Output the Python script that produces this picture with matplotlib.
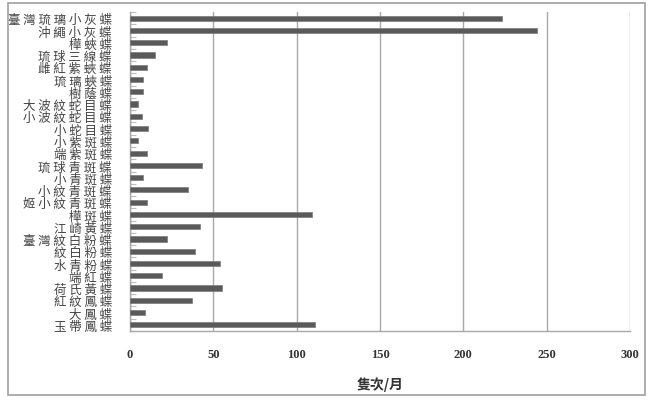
import matplotlib
matplotlib.use("Agg")
import matplotlib.pyplot as plt
from matplotlib.patches import Rectangle
import numpy as np

species = [
    "臺灣琉璃小灰蝶", "沖繩小灰蝶", "樺蛺蝶", "琉球三線蝶", "雌紅紫蛺蝶",
    "琉璃蛺蝶", "樹蔭蝶", "大波紋蛇目蝶", "小波紋蛇目蝶", "小蛇目蝶",
    "小紫斑蝶", "端紫斑蝶", "琉球青斑蝶", "小青斑蝶", "小紋青斑蝶",
    "姬小紋青斑蝶", "樺斑蝶", "江崎黃蝶", "臺灣紋白粉蝶", "紋白粉蝶",
    "水青粉蝶", "端紅蝶", "荷氏黃蝶", "紅紋鳳蝶", "大鳳蝶", "玉帶鳳蝶",
]
counts = [223, 244, 22, 15, 10, 8, 8, 5, 7, 11,
          5, 10, 43, 8, 35, 10, 109, 42, 22, 39,
          54, 19, 55, 37, 9, 111]
x_ticks = [0, 50, 100, 150, 200, 250, 300]
x_label = "隻次/月"

cjk = ["Noto Sans CJK TC", "DejaVu Sans"]

fig = plt.figure(figsize=(6.51, 4.02), dpi=100)
fig.patch.set_facecolor("white")
fig.add_artist(Rectangle((8/651, 1-396/402), 637/651, 392/402,
                         transform=fig.transFigure, fill=False,
                         edgecolor="#a0a0a0", linewidth=1.2))

ax = fig.add_axes([130/651, 1-332/402, 500/651, 319/402])
y = np.arange(len(species))
ax.barh(y, counts, height=0.42, color="#5a5a5a", edgecolor="#7a7a7a",
        linewidth=0.5, zorder=3)
ax.set_ylim(len(species) - 0.5, -0.5)
ax.set_xlim(0, 300)
ax.set_xticks(x_ticks)
ax.set_xticklabels([str(t) for t in x_ticks], family="Liberation Serif",
                   fontweight="bold", fontsize=9, color="#333333")
ax.tick_params(axis="x", length=0, pad=12)
ax.set_yticks(y)
ax.set_yticklabels([" ".join(s) for s in species], family=cjk, fontsize=9,
                   color="#444444")
ax.tick_params(axis="y", which="major", length=0, pad=13)
ax.set_yticks(np.arange(-0.5, len(species), 1), minor=True)
ax.tick_params(axis="y", which="minor", direction="in", length=4,
               color="#bbbbbb", width=0.8)
ax.grid(axis="x", color="#a8a8a8", linewidth=1, zorder=0)
for s in ["top", "right"]:
    ax.spines[s].set_visible(False)
for s in ["left", "bottom"]:
    ax.spines[s].set_color("#a8a8a8")
    ax.spines[s].set_linewidth(1)
ax.set_xlabel(x_label, family=cjk, fontsize=10, fontweight="bold",
              color="#333333", labelpad=12)

fig.savefig("out.png", dpi=100, facecolor="white")
